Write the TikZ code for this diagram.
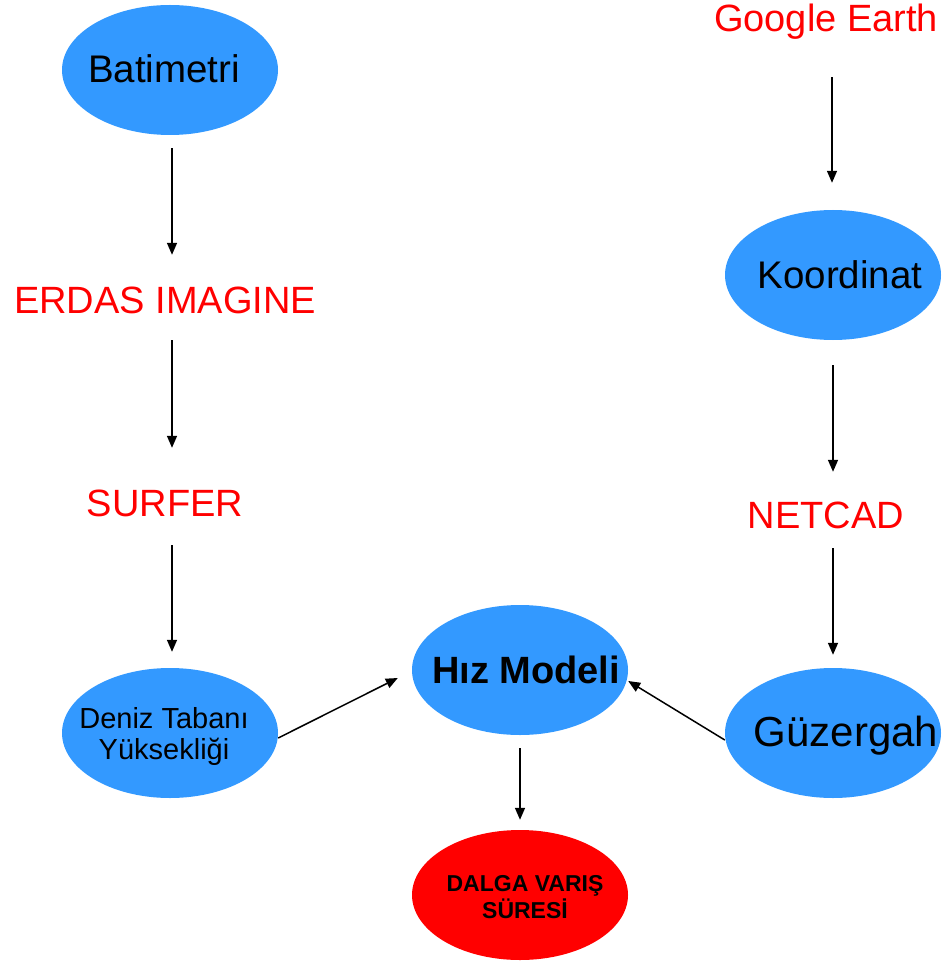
\documentclass[tikz,border=0pt]{standalone}
\usepackage{fontspec}
\setmainfont{Liberation Sans}
\usetikzlibrary{shapes.geometric,arrows.meta}
\definecolor{skyblue}{RGB}{51,153,255}
% text that does not widen its ellipse
\newcommand\etxt[2][0pt]{\makebox[0pt]{\hspace*{#1}\raisebox{-5pt}[\height][\depth]{\begin{tabular}{@{}c@{}}#2\end{tabular}}}}

\begin{document}
\begin{tikzpicture}[x=1pt,y=-1pt]
        \useasboundingbox (0,0) rectangle (945,965);
        \begin{scope}[every node/.style={ellipse,fill=skyblue,minimum width=216,minimum height=130,inner sep=0}]
            \node[font=\fontsize{38.5}{40}\selectfont] (bat) at (170,70) {\etxt[-12pt]{Batimetri}};
            \node[font=\fontsize{29}{31}\selectfont] (deniz) at (170,733) {\etxt[-12pt]{Deniz Tabanı\\ Yüksekliği}};
            \node[font=\fontsize{38}{40}\selectfont\bfseries] (hiz) at (520,670) {\etxt[12pt]{Hız Modeli}};
            \node[fill=red,font=\fontsize{23}{24}\selectfont\bfseries] (dalga) at (520,895) {\etxt[10pt]{DALGA VARIŞ\\ SÜRESİ}};
            \node[font=\fontsize{38.5}{40}\selectfont] (koord) at (833,275) {\etxt[14pt]{Koordinat}};
            \node[font=\fontsize{42}{44}\selectfont] (guz) at (833,733) {\etxt[26pt]{Güzergah}};
        \end{scope}
        \begin{scope}[every node/.style={text=red,minimum height=60,inner sep=0,font=\fontsize{38}{40}\selectfont}]
            \node (erdas) at (165,300) {ERDAS IMAGINE};
            \node (surfer) at (165,503) {SURFER};
            \node (google) at (826,22) {Google Earth};
            \node (netcad) at (826,515) {NETCAD};
        \end{scope}
        \begin{scope}[every edge/.style={draw,line width=1.5pt,-{Triangle[length=12pt,width=10pt]}}]
            \path ([xshift=2]bat.south) edge[shorten <=13] ([xshift=2,yshift=15]bat.south |- erdas.north);
            \path ([xshift=7]erdas.south) edge[shorten <=10] ([xshift=7,yshift=25]erdas.south |- surfer.north);
            \path ([xshift=7]surfer.south) edge[shorten <=12] ([xshift=7,yshift=16]surfer.south |- deniz.north);
            \path ([xshift=6]google.south) edge[shorten <=25] ([xshift=6,yshift=27]google.south |- koord.north);
            \path (koord.south) edge[shorten <=25] ([yshift=13]koord.south |- netcad.north);
            \path (koord.south |- netcad.south) edge[shorten <=3] ([yshift=13]guz.north);
            \path ([yshift=-5]deniz.east) edge ([xshift=-14,yshift=-8]hiz.west);
            \path ([yshift=-7]guz.west) edge ([yshift=-11]hiz.east);
            \path (hiz.south) edge[shorten <=13] ([yshift=10]dalga.north);
        \end{scope}
    \end{tikzpicture}
\end{document}
